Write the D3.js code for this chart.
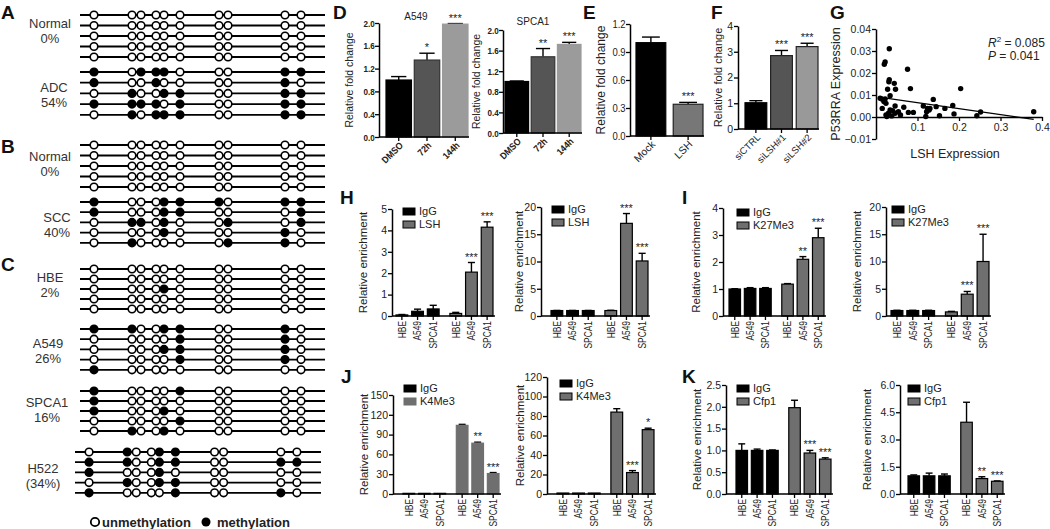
<!DOCTYPE html>
<html><head><meta charset="utf-8">
<script src="https://cdn.jsdelivr.net/npm/d3@7"></script>
<style>body{margin:0;background:#fff}svg{display:block;font-family:"Liberation Sans",Arial,sans-serif}</style>
</head><body><svg id="c" width="1050" height="529"></svg>
<script>
// ---------------- DATA ----------------
const cpgPos = [0, 38, 47, 62, 70, 86, 125, 134, 191, 207];
const methNormalA = ["0000000000","0000000000","0000000000","0000000000","0000000000"];
const methADC     = ["1011100011","1001000010","0100110011","1111010011","0101110011"];
const methNormalB = ["0000000000","0000000000","0000000000","0000000000","0000000000"];
const methSCC     = ["1000111011","1000110001","0110100101","0000100010","0100000110"];
const methHBE     = ["0000000000","0000000000","0000100000","0000000000","0000000000"];
const methA549    = ["1100110010","0000010010","0000110010","0000010010","1000000000"];
const methSPCA1   = ["1000010000","1000000000","1000100000","0000010000","0100100000"];
const methH522    = ["0100110000","1100110011","1000100000","0100110000","1000010010"];
const methNames   = ["Normal","ADC","Normal","SCC","HBE","A549","SPCA1","H522"];
const methPct     = ["0%","54%","0%","40%","2%","26%","16%","(34%)"];

const dCats = ["DMSO","72h","144h"];
const dA549 = [1.00, 1.35, 1.98], dA549Err = [0.06, 0.12, 0.01], dA549Stars = ["","*","***"];
const dSPCA1 = [1.00, 1.48, 1.72], dSPCA1Err = [0.01, 0.16, 0.04], dSPCA1Stars = ["","**","***"];
const eCats = ["Mock","LSH"];
const eVals = [1.00, 0.34], eErr = [0.06, 0.02], eStars = ["","***"];
const fCats = ["siCTRL","siLSH#1","siLSH#2"];
const fVals = [1.02, 2.85, 3.20], fErr = [0.08, 0.20, 0.13], fStars = ["","***","***"];

const gLSH = [0.032,0.022,0.020,0.032,0.031,0.044,0.047,0.028,0.076,0.083,0.034,0.014,0.022,0.019,0.024,0.015,0.046,0.034,0.040,0.030,0.024,0.038,0.046,0.054,0.067,0.059,0.078,0.090,0.114,0.124,0.128,0.122,0.130,0.138,0.145,0.120,0.153,0.166,0.185,0.188,0.204,0.243,0.252,0.380,0.010,0.026];
const gP53RRA = [0.031,0.025,0.024,0.017,0.016,0.0153,0.0126,0.0126,0.0217,0.0129,0.0097,0.0082,0.0082,0.007,0.0062,0.0039,0.005,0.0032,0.0029,0.0017,0.0009,0.0005,0.0017,0.0024,0.0044,0.0009,0.0021,0.0021,0.005,0.0039,0.0032,0.0024,0.0039,0.008,0.0047,0.0002,0.0006,0.0039,0.0052,0.0014,0.0129,0.0006,0.0023,0.0024,0.0085,0.0002];
const gFitIntercept = 0.0092, gFitSlope = -0.0271, gFitRange = [0.007, 0.38];
const gR2 = "0.085", gP = "0.041";

const cells = ["HBE","A549","SPCA1"];
const hLeftIgG = [0.05,0.22,0.33], hLeftIgGErr = [0.02,0.10,0.17];
const hLeftLSH = [0.12,2.05,4.15], hLeftLSHErr = [0.05,0.45,0.25], hLeftStars = ["","***","***"];
const hRightIgG = [1,1,1], hRightIgGErr = [0.02,0.02,0.02];
const hRightLSH = [1.0,17.0,10.1], hRightLSHErr = [0.05,1.8,1.4], hRightStars = ["","***","***"];
const iLeftIgG = [1.0,1.02,1.02], iLeftIgGErr = [0.01,0.03,0.03];
const iLeftK27 = [1.18,2.1,2.9], iLeftK27Err = [0.02,0.1,0.35], iLeftStars = ["","**","***"];
const iRightIgG = [1,1,1], iRightIgGErr = [0.05,0.05,0.05];
const iRightK27 = [0.75,4.0,10.0], iRightK27Err = [0.1,0.5,5.0], iRightStars = ["","***","***"];
const jLeftIgG = [1,1,1], jLeftIgGErr = [0,0,0];
const jLeftK4 = [104,77,31], jLeftK4Err = [1.5,1.5,1.5], jLeftStars = ["","**","***"];
const jRightIgG = [1,1,1], jRightIgGErr = [0,0,0];
const jRightK4 = [84,22,66], jRightK4Err = [3.5,2,1.5], jRightStars = ["","***","*"];
const kLeftIgG = [1.0,1.0,1.0], kLeftIgGErr = [0.15,0.03,0.01];
const kLeftCfp1 = [1.98,0.94,0.8], kLeftCfp1Err = [0.17,0.06,0.03], kLeftStars = ["","***","***"];
const kRightIgG = [1,1,1], kRightIgGErr = [0.05,0.15,0.1];
const kRightCfp1 = [3.95,0.85,0.7], kRightCfp1Err = [1.1,0.1,0.02], kRightStars = ["","**","***"];

// ---------------- DRAWING ----------------
const svg = d3.select("#c");
const FONT = '"Liberation Sans", Arial, sans-serif';

function letter(t, x, y) {
  svg.append("text").attr("x", x).attr("y", y).attr("font-size", 19).attr("font-weight", "bold").attr("fill", "#111").text(t);
}
[["A",1,19],["B",1,153],["C",1,271],["D",333,19],["E",583,19],["F",711,19],["G",830,19],
 ["H",340,204],["I",682,204],["J",341,383],["K",682,383]].forEach(d => letter(...d));

// ---- methylation panels ----
const methBlocks = [
  {rows: methNormalA, y: 15, step: 10.5, lx: 50, ly: 28},
  {rows: methADC, y: 72, step: 10.7, lx: 54, ly: 92},
  {rows: methNormalB, y: 145, step: 10.5, lx: 50, ly: 161},
  {rows: methSCC, y: 202, step: 10.2, lx: 57, ly: 222},
  {rows: methHBE, y: 269, step: 10, lx: 50, ly: 282},
  {rows: methA549, y: 329, step: 10.2, lx: 48, ly: 348},
  {rows: methSPCA1, y: 391, step: 10, lx: 47, ly: 407},
  {rows: methH522, y: 452, step: 10.2, lx: 43, ly: 473, h522: true}
];
const mx = d3.scaleLinear().domain([-14, 231]).range([80, 325]);
const mxH = d3.scaleLinear().domain([-14, 231]).range([75, 321]);
methBlocks.forEach((b, bi) => {
  const sx = b.h522 ? mxH : mx;
  const g = svg.append("g");
  b.rows.forEach((r, ri) => {
    const yy = b.y + ri * b.step;
    g.append("line").attr("x1", sx.range()[0]).attr("x2", sx.range()[1]).attr("y1", yy).attr("y2", yy)
      .attr("stroke", "#000").attr("stroke-width", 1.8);
    g.selectAll(null).data(cpgPos).enter().append("circle")
      .attr("cx", d => sx(d)).attr("cy", yy).attr("r", 3.8)
      .attr("fill", (d, i) => r[i] === "1" ? "#000" : "#fff")
      .attr("stroke", "#000").attr("stroke-width", 1.6);
  });
  g.append("text").attr("x", b.lx).attr("y", b.ly).attr("text-anchor", "middle").attr("font-size", 13).attr("fill", "#333").text(methNames[bi]);
  g.append("text").attr("x", b.lx).attr("y", b.ly + 15).attr("text-anchor", "middle").attr("font-size", 13).attr("fill", "#333").text(methPct[bi]);
});
svg.append("circle").attr("cx", 95).attr("cy", 522).attr("r", 4.2).attr("fill", "#fff").attr("stroke", "#000").attr("stroke-width", 1.8);
svg.append("text").attr("x", 102).attr("y", 527).attr("font-size", 13).attr("font-weight", "bold").attr("fill", "#222").text("unmethylation");
svg.append("circle").attr("cx", 206).attr("cy", 522).attr("r", 4.5).attr("fill", "#000");
svg.append("text").attr("x", 217).attr("y", 527).attr("font-size", 13).attr("font-weight", "bold").attr("fill", "#222").text("methylation");

// ---- shared helpers ----
function yAxis(c, y) {
  const ax = svg.append("g").attr("transform", `translate(${c.x0},0)`)
    .call(d3.axisLeft(y).tickValues(c.ticks).tickFormat(c.fmt).tickSize(4).tickSizeOuter(0));
  ax.select(".domain").attr("stroke", "#000").attr("stroke-width", 1.5);
  ax.selectAll(".tick line").attr("stroke", "#000").attr("stroke-width", 1.3);
  ax.selectAll(".tick text").attr("font-size", c.fs || 10.5).attr("fill", "#222").attr("font-family", FONT)
    .attr("font-weight", c.bold ? "bold" : null).attr("x", -5)
    .attr("transform", c.squeeze ? `scale(${c.squeeze},1)` : null);
}
function yLabel(c, text, size) {
  svg.append("text").attr("transform", `translate(${c.lx},${(c.y0 + c.yTop) / 2}) rotate(-90)`)
    .attr("text-anchor", "middle").attr("font-size", size).attr("fill", "#222").text(text);
}
function bar(cx, bw, y, v, e, fill, stroke, sw, star, y0) {
  if (e > 0) {
    svg.append("line").attr("x1", cx).attr("x2", cx).attr("y1", y(v)).attr("y2", y(v + e)).attr("stroke", "#000").attr("stroke-width", 1.4);
    svg.append("line").attr("x1", cx - bw * 0.3).attr("x2", cx + bw * 0.3).attr("y1", y(v + e)).attr("y2", y(v + e)).attr("stroke", "#000").attr("stroke-width", 1.4);
  }
  svg.append("rect").attr("x", cx - bw / 2).attr("y", y(v)).attr("width", bw).attr("height", Math.max(0.6, y0 - y(v)))
    .attr("fill", fill).attr("stroke", stroke).attr("stroke-width", sw);
  if (star) svg.append("text").attr("x", cx).attr("y", y(v + e) - 2).attr("text-anchor", "middle").attr("font-size", 11).attr("fill", "#222").text(star);
}

function simpleBar(c) {
  const y = d3.scaleLinear().domain([0, c.max]).range([c.y0, c.yTop]);
  const x = d3.scaleBand().domain(c.cats).range(c.range).paddingInner(c.pad).paddingOuter(0);
  c.cats.forEach((k, i) => {
    const cx = x(k) + x.bandwidth() / 2;
    bar(cx, x.bandwidth(), y, c.vals[i], c.err[i], c.fills[i], c.strokes[i], 1.2, c.stars[i], c.y0);
    svg.append("line").attr("x1", cx).attr("x2", cx).attr("y1", c.y0).attr("y2", c.y0 + 4).attr("stroke", "#000").attr("stroke-width", 1.3);
    svg.append("text").attr("transform", `translate(${cx + 5},${c.y0 + 9}) rotate(-45) scale(${c.xsq || 1},1)`).attr("text-anchor", "end")
      .attr("font-size", c.xfs || 10.5).attr("font-weight", c.bold ? "bold" : null).attr("fill", "#222").text(k);
  });
  svg.append("line").attr("x1", c.x0).attr("x2", c.range[1] + 1).attr("y1", c.y0).attr("y2", c.y0).attr("stroke", "#000").attr("stroke-width", 1.5);
  yAxis(c, y);
  yLabel(c, "Relative fold change", c.lfs);
  if (c.title) svg.append("text").attr("x", c.title[1]).attr("y", c.title[2]).attr("text-anchor", "middle").attr("font-size", 10).attr("fill", "#222").text(c.title[0]);
}

function groupBar(c) {
  const y = d3.scaleLinear().domain([0, c.max]).range([c.y0, c.yTop]);
  const outer = d3.scaleBand().domain(["IgG", c.name]).range(c.range).paddingInner(0.2).paddingOuter(0);
  const inner = d3.scaleBand().domain(cells).range([0, outer.bandwidth()]).paddingInner(0.25).paddingOuter(0);
  const bw = inner.bandwidth();
  const series = [
    {g: "IgG", vals: c.igg, err: c.iggErr, fill: "#000", stroke: "#000", stars: ["","",""]},
    {g: c.name, vals: c.vals, err: c.err, fill: "#6f6f6f", stroke: c.noOutline ? "#6f6f6f" : "#000", stars: c.stars}
  ];
  series.forEach(s => {
    cells.forEach((k, i) => {
      const cx = outer(s.g) + inner(k) + bw / 2;
      bar(cx, bw, y, s.vals[i], s.err[i], s.fill, s.stroke, 1.2, s.stars[i], c.y0);
      svg.append("line").attr("x1", cx).attr("x2", cx).attr("y1", c.y0).attr("y2", c.y0 + 4).attr("stroke", "#000").attr("stroke-width", 1.3);
      svg.append("text").attr("transform", `translate(${cx},${c.y0 + 5}) rotate(-90) scale(0.8,1)`).attr("text-anchor", "end").attr("dy", "0.36em")
        .attr("font-size", 10.5).attr("fill", "#222").text(k);
    });
  });
  svg.append("line").attr("x1", c.x0).attr("x2", c.range[1] + 2).attr("y1", c.y0).attr("y2", c.y0).attr("stroke", "#000").attr("stroke-width", 1.5);
  yAxis(c, y);
  yLabel(c, "Relative enrichment", 11.5);
  [["IgG", "#000"], [c.name, "#6f6f6f"]].forEach((d, i) => {
    const ly = c.leg[1] + i * 13;
    svg.append("rect").attr("x", c.leg[0]).attr("y", ly).attr("width", 12).attr("height", 7).attr("fill", d[1])
      .attr("stroke", (c.noOutline && i === 1) ? d[1] : "#000").attr("stroke-width", 1);
    svg.append("text").attr("x", c.leg[0] + 16).attr("y", ly + 7).attr("font-size", 11).attr("fill", "#222").text(d[0]);
  });
}

// ---- D, E, F ----
simpleBar({cats: dCats, vals: dA549, err: dA549Err, stars: dA549Stars, fills: ["#000","#555","#9b9b9b"], strokes: ["#000","#333","#9b9b9b"],
  x0: 379, range: [386, 468], pad: 0.1, y0: 137, yTop: 23, max: 2.0, ticks: [0,0.4,0.8,1.2,1.6,2.0], fmt: d3.format(".1f"),
  fs: 9.5, bold: true, squeeze: 0.85, xfs: 9.5, xsq: 0.9, lx: 353, lfs: 10.5, title: ["A549", 416, 20]});
simpleBar({cats: dCats, vals: dSPCA1, err: dSPCA1Err, stars: dSPCA1Stars, fills: ["#000","#555","#9b9b9b"], strokes: ["#000","#333","#9b9b9b"],
  x0: 503, range: [505, 581], pad: 0.1, y0: 133, yTop: 30, max: 2.0, ticks: [0,0.4,0.8,1.2,1.6,2.0], fmt: d3.format(".1f"),
  fs: 9.5, bold: true, squeeze: 0.85, xfs: 9.5, xsq: 0.9, lx: 480, lfs: 10.5, title: ["SPCA1", 533, 25]});
simpleBar({cats: eCats, vals: eVals, err: eErr, stars: eStars, fills: ["#000","#777"], strokes: ["#000","#222"],
  x0: 630, range: [636, 703], pad: 0.2, y0: 136, yTop: 24, max: 1.2, ticks: [0,0.3,0.6,0.9,1.2], fmt: d3.format(".1f"),
  fs: 10.5, squeeze: 0.9, xfs: 10.5, lx: 605, lfs: 12});
simpleBar({cats: fCats, vals: fVals, err: fErr, stars: fStars, fills: ["#000","#555","#999"], strokes: ["#000","#222","#222"],
  x0: 738, range: [745, 818], pad: 0.15, y0: 129, yTop: 26, max: 4, ticks: [0,1,2,3,4], fmt: d3.format("d"),
  fs: 10.5, xfs: 9.5, lx: 722, lfs: 11});

// ---- G scatter ----
(function () {
  const x = d3.scaleLinear().domain([0, 0.4]).range([876, 1042]);
  const y = d3.scaleLinear().domain([-0.01, 0.04]).range([139, 29]);
  const ax = svg.append("g").attr("transform", "translate(876,0)")
    .call(d3.axisLeft(y).tickValues([-0.01,0,0.01,0.02,0.03,0.04]).tickFormat(d3.format(".2f")).tickSize(4).tickSizeOuter(0));
  const bx = svg.append("g").attr("transform", `translate(0,${y(0)})`)
    .call(d3.axisBottom(x).tickValues([0.1,0.2,0.3,0.4]).tickFormat(d3.format(".1f")).tickSize(4).tickSizeOuter(0));
  [ax, bx].forEach(a => {
    a.select(".domain").attr("stroke", "#000").attr("stroke-width", 1.5);
    a.selectAll(".tick line").attr("stroke", "#000").attr("stroke-width", 1.3);
    a.selectAll(".tick text").attr("font-size", 10.5).attr("fill", "#222").attr("font-family", FONT);
  });
  ax.selectAll(".tick text").attr("x", -5);
  svg.append("line").attr("x1", x(gFitRange[0])).attr("x2", x(gFitRange[1]))
    .attr("y1", y(gFitIntercept + gFitSlope * gFitRange[0])).attr("y2", y(gFitIntercept + gFitSlope * gFitRange[1]))
    .attr("stroke", "#000").attr("stroke-width", 1.3);
  svg.selectAll(null).data(gLSH).enter().append("circle")
    .attr("cx", d => x(d)).attr("cy", (d, i) => y(gP53RRA[i])).attr("r", 2.7).attr("fill", "#000");
  svg.append("text").attr("transform", `translate(840,84) rotate(-90)`).attr("text-anchor", "middle").attr("font-size", 12.5).attr("fill", "#222").text("P53RRA Expression");
  svg.append("text").attr("x", 955).attr("y", 158).attr("text-anchor", "middle").attr("font-size", 12.5).attr("fill", "#222").text("LSH Expression");
  const t1 = svg.append("text").attr("x", 988).attr("y", 47).attr("font-size", 12).attr("fill", "#222");
  t1.append("tspan").attr("font-style", "italic").text("R");
  t1.append("tspan").attr("font-size", 8).attr("dy", -5).text("2");
  t1.append("tspan").attr("dy", 5).text(" = " + gR2);
  const t2 = svg.append("text").attr("x", 988).attr("y", 60).attr("font-size", 12).attr("fill", "#222");
  t2.append("tspan").attr("font-style", "italic").text("P");
  t2.append("tspan").text(" = " + gP);
})();

// ---- H, I, J, K ----
groupBar({name: "LSH", igg: hLeftIgG, iggErr: hLeftIgGErr, vals: hLeftLSH, err: hLeftLSHErr, stars: hLeftStars,
  x0: 392, range: [396, 493], y0: 316, yTop: 209, max: 5, ticks: [0,1,2,3,4,5], fmt: d3.format("d"), lx: 367, leg: [403, 208]});
groupBar({name: "LSH", igg: hRightIgG, iggErr: hRightIgGErr, vals: hRightLSH, err: hRightLSHErr, stars: hRightStars,
  x0: 541, range: [551, 648], y0: 316, yTop: 207, max: 20, ticks: [0,5,10,15,20], fmt: d3.format("d"), lx: 523, leg: [552, 206]});
groupBar({name: "K27Me3", igg: iLeftIgG, iggErr: iLeftIgGErr, vals: iLeftK27, err: iLeftK27Err, stars: iLeftStars,
  x0: 723, range: [729, 824], y0: 316, yTop: 208, max: 4, ticks: [0,1,2,3,4], fmt: d3.format("d"), lx: 700, leg: [737, 209]});
groupBar({name: "K27Me3", igg: iRightIgG, iggErr: iRightIgGErr, vals: iRightK27, err: iRightK27Err, stars: iRightStars,
  x0: 886, range: [891, 989], y0: 316, yTop: 207, max: 20, ticks: [0,5,10,15,20], fmt: d3.format("d"), lx: 861, leg: [892, 206]});
groupBar({name: "K4Me3", igg: jLeftIgG, iggErr: jLeftIgGErr, vals: jLeftK4, err: jLeftK4Err, stars: jLeftStars, noOutline: true,
  x0: 393, range: [403, 499], y0: 494, yTop: 395, max: 150, ticks: [0,30,60,90,120,150], fmt: d3.format("d"), lx: 368, leg: [404, 385]});
groupBar({name: "K4Me3", igg: jRightIgG, iggErr: jRightIgGErr, vals: jRightK4, err: jRightK4Err, stars: jRightStars,
  x0: 547, range: [557, 654], y0: 494, yTop: 377, max: 120, ticks: [0,20,40,60,80,100,120], fmt: d3.format("d"), lx: 524, leg: [560, 380]});
groupBar({name: "Cfp1", igg: kLeftIgG, iggErr: kLeftIgGErr, vals: kLeftCfp1, err: kLeftCfp1Err, stars: kLeftStars,
  x0: 726, range: [736, 831], y0: 494, yTop: 385, max: 2.5, ticks: [0,0.5,1,1.5,2,2.5], fmt: d3.format(".1f"), lx: 701, leg: [737, 385]});
groupBar({name: "Cfp1", igg: kRightIgG, iggErr: kRightIgGErr, vals: kRightCfp1, err: kRightCfp1Err, stars: kRightStars,
  x0: 900, range: [908, 1003], y0: 494, yTop: 385, max: 6, ticks: [0,1.5,3,4.5,6], fmt: d3.format(".1f"), lx: 871, leg: [908, 385]});
</script></body></html>
